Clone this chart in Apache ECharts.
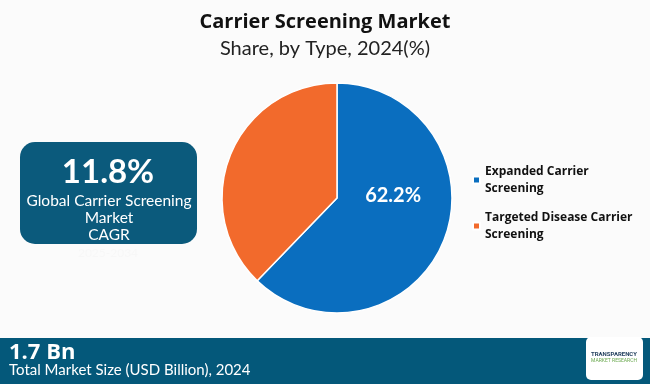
<!DOCTYPE html>
<html><head><meta charset="utf-8">
<script src="https://cdn.jsdelivr.net/npm/echarts@6/dist/echarts.min.js"></script>
<style>html,body{margin:0;padding:0;background:#fbfbfb;}#c{width:650px;height:384px;}</style>
</head><body><div id="c"></div>
<script>
const categories = ['Expanded Carrier\nScreening', 'Targeted Disease Carrier\nScreening'];
const shares = [62.2, 37.8];
const colors = ['#0a6ebf', '#f26a2c'];
const cagrText = '11.8%';
const marketSize = '1.7 Bn';

const chart = echarts.init(document.getElementById('c'));
chart.setOption({
  backgroundColor: '#fbfbfb',
  animation: false,
  title: [
    {text: 'Carrier Screening Market', left: 'center', top: 7,
     textStyle: {fontFamily: 'Open Sans', fontWeight: 'bold', fontSize: 20, color: '#111'}},
    {text: 'Share, by Type, 2024(%)', left: 'center', top: 34,
     textStyle: {fontFamily: 'Lato', fontWeight: 'normal', fontSize: 20, color: '#222'}}
  ],
  legend: {
    orient: 'vertical', left: 467, top: 158, itemWidth: 7, itemHeight: 7, itemGap: 12,
    icon: 'rect',
    textStyle: {fontFamily: 'Open Sans', fontWeight: 'bold', fontSize: 12, color: '#111', lineHeight: 17}
  },
  graphic: [
    {type: 'rect', shape: {x: 20, y: 142, width: 177, height: 102, r: 15}, style: {fill: '#0b5a7c'}},
    {type: 'text', x: 108, y: 172, style: {text: cagrText, fill: '#fff', font: 'bold 33px Lato', textAlign: 'center', textVerticalAlign: 'middle'}},
    {type: 'text', x: 109, y: 218, style: {text: 'Global Carrier Screening\nMarket\nCAGR', fill: '#fff', font: '15.5px Lato', lineHeight: 17, textAlign: 'center', textVerticalAlign: 'middle'}},
    {type: 'text', x: 108, y: 253, style: {text: '2025-2034', fill: '#f7f7f7', font: '12px Lato', textAlign: 'center', textVerticalAlign: 'middle'}},
    {type: 'rect', shape: {x: 0, y: 338, width: 650, height: 46}, style: {fill: '#04587a'}},
    {type: 'text', x: 9, y: 353, style: {text: marketSize, fill: '#fff', font: 'bold 22px Open Sans', textVerticalAlign: 'middle'}},
    {type: 'text', x: 9, y: 370, style: {text: 'Total Market Size (USD Billion), 2024', fill: '#fff', font: '15px Lato', textVerticalAlign: 'middle'}},
    {type: 'rect', shape: {x: 586, y: 337, width: 57, height: 43, r: 5}, style: {fill: '#fff'}},
    {type: 'text', x: 614, y: 354, style: {text: 'TRANSPARENCY', fill: '#1d3b5a', font: 'bold 6px Roboto', textAlign: 'center', textVerticalAlign: 'middle'}},
    {type: 'text', x: 614, y: 361, style: {text: 'MARKET RESEARCH', fill: '#6aa84f', font: '5px Roboto', textAlign: 'center', textVerticalAlign: 'middle'}}
  ],
  series: [{
    type: 'pie', center: [337, 198], radius: [0, 115], startAngle: 90, clockwise: true,
    avoidLabelOverlap: false,
    itemStyle: {borderColor: '#fff', borderWidth: 1.5},
    label: {show: true, position: 'inside', formatter: p => p.dataIndex === 0 ? p.value.toFixed(1) + '%' : '',
            color: '#fff', fontFamily: 'Lato', fontWeight: 'bold', fontSize: 20, offset: [0, -25]},
    labelLine: {show: false},
    data: categories.map((c, i) => ({name: c, value: shares[i], itemStyle: {color: colors[i]}}))
  }]
});
</script></body></html>
